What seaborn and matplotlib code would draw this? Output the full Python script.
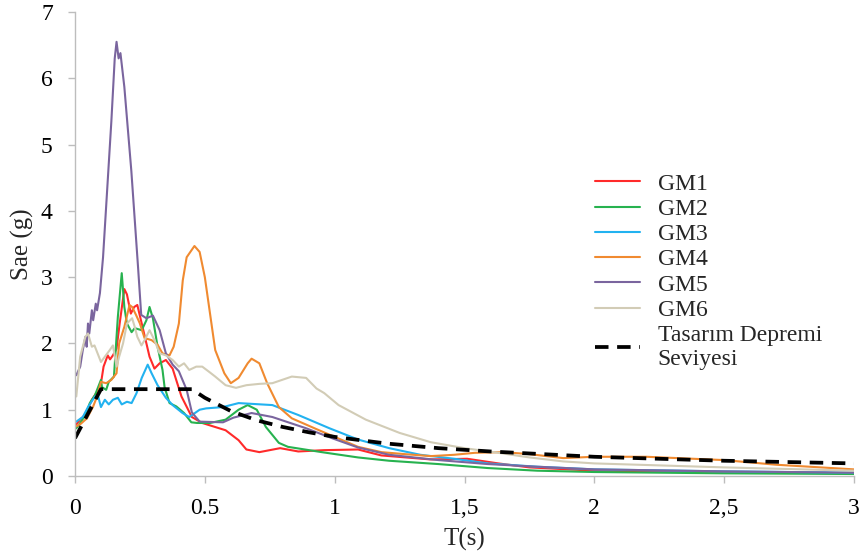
import matplotlib
matplotlib.use("Agg")
import matplotlib.pyplot as plt
import seaborn as sns
import pandas as pd
from matplotlib.lines import Line2D

# Spectral acceleration records, period T (s) and Sae (g)
gm1_t = [0.005, 0.02, 0.04, 0.065, 0.085, 0.10, 0.11, 0.126, 0.135, 0.146, 0.16, 0.172, 0.19, 0.20,
         0.215, 0.228, 0.24, 0.257, 0.287, 0.306, 0.326, 0.35, 0.376, 0.41, 0.45, 0.49, 0.58, 0.63,
         0.66, 0.71, 0.79, 0.86, 0.96, 1.09, 1.18, 1.37, 1.51, 1.63, 1.75, 2.0, 2.5, 3.0]
gm1_sa = [0.78, 0.85, 0.93, 1.15, 1.27, 1.40, 1.65, 1.82, 1.76, 1.82, 1.92, 2.30, 2.82, 2.74,
          2.45, 2.55, 2.58, 2.30, 1.80, 1.62, 1.70, 1.75, 1.62, 1.20, 0.89, 0.80, 0.69, 0.54,
          0.40, 0.36, 0.42, 0.37, 0.39, 0.40, 0.31, 0.25, 0.26, 0.19, 0.13, 0.08, 0.06, 0.04]

gm2_t = [0.005, 0.02, 0.04, 0.057, 0.077, 0.088, 0.10, 0.104, 0.12, 0.13, 0.15, 0.165, 0.18, 0.19,
         0.20, 0.218, 0.23, 0.257, 0.275, 0.287, 0.30, 0.318, 0.337, 0.345, 0.364, 0.39, 0.42, 0.448,
         0.47, 0.52, 0.58, 0.63, 0.665, 0.70, 0.735, 0.785, 0.82, 0.95, 1.09, 1.21, 1.40, 1.59, 1.78,
         2.0, 2.5, 3.0]
gm2_sa = [0.72, 0.80, 0.92, 1.10, 1.22, 1.33, 1.45, 1.34, 1.30, 1.42, 1.50, 2.40, 3.06, 2.55,
          2.30, 2.17, 2.23, 2.20, 2.35, 2.55, 2.38, 1.95, 1.60, 1.34, 1.10, 1.05, 0.95, 0.81,
          0.80, 0.80, 0.85, 1.00, 1.07, 1.00, 0.74, 0.50, 0.44, 0.36, 0.28, 0.23, 0.18, 0.12, 0.08,
          0.06, 0.04, 0.03]

gm3_t = [0.005, 0.03, 0.05, 0.077, 0.088, 0.10, 0.115, 0.13, 0.146, 0.165, 0.18, 0.20, 0.218, 0.237,
         0.257, 0.28, 0.295, 0.318, 0.35, 0.376, 0.414, 0.44, 0.48, 0.505, 0.57, 0.63, 0.76, 0.86,
         0.98, 1.09, 1.21, 1.33, 1.46, 1.59, 1.78, 2.0, 2.5, 3.0]
gm3_sa = [0.82, 0.89, 1.04, 1.20, 1.22, 1.04, 1.15, 1.08, 1.15, 1.18, 1.08, 1.12, 1.10, 1.25,
          1.48, 1.68, 1.55, 1.37, 1.18, 1.07, 0.95, 0.89, 1.00, 1.02, 1.04, 1.10, 1.07, 0.92,
          0.72, 0.55, 0.42, 0.32, 0.26, 0.19, 0.14, 0.10, 0.07, 0.05]

gm4_t = [0.005, 0.02, 0.046, 0.07, 0.085, 0.10, 0.12, 0.14, 0.16, 0.17, 0.19, 0.21, 0.22, 0.235,
         0.25, 0.268, 0.295, 0.318, 0.337, 0.364, 0.38, 0.40, 0.415, 0.43, 0.46, 0.48, 0.50, 0.52,
         0.54, 0.575, 0.60, 0.63, 0.665, 0.68, 0.71, 0.74, 0.785, 0.835, 0.94, 1.03, 1.09, 1.18,
         1.27, 1.37, 1.46, 1.54, 1.65, 1.75, 1.88, 2.0, 2.2, 2.5, 2.7, 3.0]
gm4_sa = [0.75, 0.78, 0.87, 1.05, 1.20, 1.42, 1.40, 1.45, 1.55, 2.00, 2.25, 2.58, 2.55, 2.43,
          2.30, 2.08, 2.05, 1.98, 1.85, 1.82, 1.95, 2.30, 2.95, 3.30, 3.47, 3.38, 3.00, 2.45,
          1.90, 1.55, 1.40, 1.48, 1.70, 1.77, 1.70, 1.40, 1.04, 0.87, 0.69, 0.54, 0.44, 0.36,
          0.33, 0.30, 0.32, 0.35, 0.36, 0.33, 0.27, 0.29, 0.29, 0.24, 0.17, 0.10]

gm5_t = [0.005, 0.02, 0.03, 0.04, 0.045, 0.05, 0.055, 0.065, 0.07, 0.08, 0.085, 0.096, 0.108, 0.14,
         0.153, 0.16, 0.168, 0.175, 0.19, 0.217, 0.243, 0.255, 0.275, 0.30, 0.326, 0.35, 0.376, 0.40,
         0.43, 0.45, 0.48, 0.57, 0.61, 0.68, 0.76, 0.89, 0.99, 1.09, 1.21, 1.40, 1.59, 1.78, 2.0,
         2.5, 3.0]
gm5_sa = [1.52, 1.65, 1.90, 2.10, 1.95, 2.30, 2.15, 2.50, 2.35, 2.60, 2.50, 2.76, 3.30, 5.35,
          6.30, 6.55, 6.30, 6.38, 5.87, 4.60, 3.14, 2.43, 2.38, 2.42, 2.20, 1.85, 1.68, 1.58,
          1.30, 0.96, 0.82, 0.81, 0.88, 0.95, 0.89, 0.72, 0.57, 0.43, 0.32, 0.24, 0.18, 0.14, 0.10,
          0.07, 0.05]

gm6_t = [0.005, 0.02, 0.04, 0.05, 0.065, 0.075, 0.09, 0.10, 0.115, 0.134, 0.146, 0.16, 0.17, 0.185,
         0.20, 0.22, 0.23, 0.24, 0.256, 0.268, 0.287, 0.306, 0.326, 0.35, 0.376, 0.40, 0.42, 0.44,
         0.467, 0.49, 0.517, 0.54, 0.58, 0.62, 0.66, 0.71, 0.76, 0.835, 0.89, 0.93, 0.96, 1.015,
         1.12, 1.25, 1.37, 1.50, 1.63, 1.75, 1.88, 2.0, 2.5, 3.0]
gm6_sa = [1.20, 1.80, 2.10, 2.15, 1.95, 1.97, 1.82, 1.72, 1.80, 1.90, 1.97, 1.65, 1.80, 2.00,
          2.30, 2.38, 2.25, 2.10, 1.97, 2.05, 2.20, 2.05, 1.85, 1.82, 1.75, 1.65, 1.70, 1.60,
          1.65, 1.65, 1.57, 1.50, 1.37, 1.33, 1.37, 1.39, 1.40, 1.50, 1.48, 1.32, 1.25, 1.07,
          0.85, 0.65, 0.51, 0.42, 0.35, 0.28, 0.22, 0.19, 0.13, 0.08]

# Design earthquake level spectrum
design_t = [0.0, 0.1, 0.45, 0.5, 0.6, 0.7, 0.8, 0.9, 1.0, 1.2, 1.4, 1.6, 1.8, 2.0, 2.25, 2.5, 2.75, 3.0]
design_sa = [0.57, 1.31, 1.31, 1.18, 0.98, 0.84, 0.74, 0.66, 0.59, 0.49, 0.42, 0.37, 0.33, 0.29,
             0.26, 0.23, 0.21, 0.19]

records = ["GM1", "GM2", "GM3", "GM4", "GM5", "GM6"]
record_colors = ["#FF2A2A", "#27B24F", "#22B2F0", "#F08A30", "#7A659E", "#D2CCB6"]
design_label = "Tasarım Depremi\nSeviyesi"

x_ticks = [0, 0.5, 1, 1.5, 2, 2.5, 3]
x_tick_labels = ["0", "0.5", "1", "1,5", "2", "2,5", "3"]
y_ticks = [0, 1, 2, 3, 4, 5, 6, 7]

series = [(gm1_t, gm1_sa), (gm2_t, gm2_sa), (gm3_t, gm3_sa),
          (gm4_t, gm4_sa), (gm5_t, gm5_sa), (gm6_t, gm6_sa)]
frames = [pd.DataFrame({"T": t, "Sa": sa, "record": name})
          for name, (t, sa) in zip(records, series)]
df = pd.concat(frames, ignore_index=True)
design_df = pd.DataFrame({"T": design_t, "Sa": design_sa})

sns.set_style("white")
plt.rcParams["font.family"] = ["Liberation Serif", "DejaVu Serif"]

fig = plt.figure(figsize=(8.61, 5.56), dpi=100)
ax = fig.add_axes([75 / 861, 80 / 556, (854 - 75) / 861, (476 - 12) / 556])

sns.lineplot(data=df, x="T", y="Sa", hue="record", hue_order=records,
             palette=dict(zip(records, record_colors)), estimator=None, sort=False,
             linewidth=1.5, legend=False, ax=ax)
sns.lineplot(data=design_df, x="T", y="Sa", color="black", linewidth=2.7,
             dashes=False, ax=ax)
ax.lines[-1].set_dashes((3.6, 2.3))

ax.set_xlim(0, 3)
ax.set_ylim(0, 7)
ax.set_xticks(x_ticks)
ax.set_xticklabels(x_tick_labels)
ax.set_yticks(y_ticks)
ax.tick_params(axis="both", which="major", direction="out", length=5, width=1,
               color="#BDBDBD", labelsize=17, labelcolor="black", pad=11,
               bottom=True, left=True)
for side in ["top", "right"]:
    ax.spines[side].set_visible(False)
for side in ["left", "bottom"]:
    ax.spines[side].set_color("#BDBDBD")
    ax.spines[side].set_linewidth(1.0)
ax.set_xlabel("T(s)", fontsize=18, labelpad=6)
ax.set_ylabel("Sae (g)", fontsize=18, labelpad=5)

handles = [Line2D([], [], color=c, linewidth=1.5) for c in record_colors]
handles.append(Line2D([], [], color="black", linewidth=2.7, dashes=(3.6, 2.3)))
leg = ax.legend(handles, records + [design_label], loc="upper left",
                bbox_to_anchor=(595 / 861, 1 - 173 / 556), bbox_transform=fig.transFigure,
                frameon=False, fontsize=17, handlelength=1.9, handletextpad=0.75,
                labelspacing=0.16, borderpad=0, borderaxespad=0)
for txt in leg.get_texts():
    txt.set_linespacing(1.22)

fig.savefig("out.png", dpi=100)
